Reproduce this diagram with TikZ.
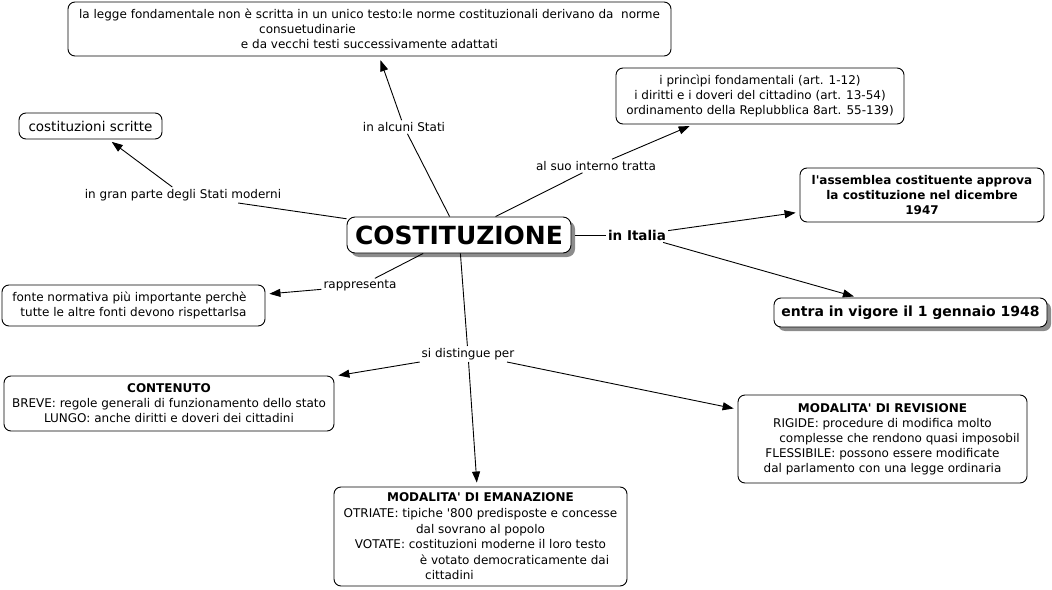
\documentclass[tikz,border=0pt]{standalone}
\usepackage{fontspec}
\setmainfont{DejaVu Sans}[Ligatures=TeXOff]
\usetikzlibrary{arrows.meta,shadows}
\begin{document}
\begin{tikzpicture}[x=1pt,y=-1pt,
  box/.style={draw=black,line width=0.9pt,rounded corners=7pt,fill=white,inner sep=0pt,align=center,font=\fontsize{12}{15}\selectfont},
  lab/.style={inner sep=2pt,font=\fontsize{12}{15}\selectfont},
  link/.style={draw=black,line width=0.9pt},
  arr/.style={link,-{Triangle[length=11pt,width=8pt]},shorten >=4pt},
  shad/.style={drop shadow={shadow xshift=4pt,shadow yshift=-4pt,fill=black!45,opacity=1}}
]
\useasboundingbox (0,0) rectangle (1052,589);

% concept boxes
\node[box,minimum width=603pt,minimum height=54pt] (top) at (369.5,29)
  {la legge fondamentale non è scritta in un unico testo:le norme costituzionali derivano da\ \ norme\\
   consuetudinarie\rule{124pt}{0pt}\\
   e da vecchi testi successivamente adattati};
\node[box,minimum width=288pt,minimum height=56pt] (tratta) at (760,96)
  {i princìpi fondamentali (art. 1-12)\\
   i diritti e i doveri del cittadino (art. 13-54)\\
   ordinamento della Replubblica 8art. 55-139)};
\node[box,minimum width=143pt,minimum height=26pt,font=\fontsize{13.5}{16}\selectfont] (scritte) at (90.5,126)
  {costituzioni scritte};
\node[box,shad,minimum width=224pt,minimum height=36pt,rounded corners=8pt,font=\fontsize{25}{29}\selectfont\bfseries] (cost) at (459,235)
  {COSTITUZIONE};
\node[box,minimum width=244pt,minimum height=54pt,font=\fontsize{12}{15}\selectfont\bfseries] (assemblea) at (922,195)
  {l'assemblea costituente approva\\ la costituzione nel dicembre\\ 1947};
\node[box,shad,minimum width=273pt,minimum height=29pt,font=\fontsize{14}{17}\selectfont\bfseries] (vigore) at (910.5,312.5)
  {entra in vigore il 1 gennaio 1948};
\node[box,minimum width=263pt,minimum height=41pt] (fonte) at (133.5,305.5)
  {fonte normativa più importante perchè\rule{8pt}{0pt}\\
   tutte le altre fonti devono rispettarlsa};
\node[box,minimum width=330pt,minimum height=55pt] (contenuto) at (169,403.5)
  {\textbf{CONTENUTO}\\
   BREVE: regole generali di funzionamento dello stato\\
   LUNGO: anche diritti e doveri dei cittadini};
\node[box,minimum width=289pt,minimum height=88pt] (revisione) at (882.5,439)
  {\textbf{MODALITA' DI REVISIONE}\\
   RIGIDE: procedure di modifica molto\\
   \rule{34pt}{0pt}complesse che rendono quasi imposobil\\
   FLESSIBILE: possono essere modificate\\
   dal parlamento con una legge ordinaria};
\node[box,minimum width=293pt,minimum height=99pt,font=\fontsize{12}{15.6}\selectfont] (emanazione) at (480.5,536.5)
  {\textbf{MODALITA' DI EMANAZIONE}\\
   OTRIATE: tipiche '800 predisposte e concesse\\
   dal sovrano al popolo\\
   VOTATE: costituzioni moderne il loro testo\\
   \rule{68pt}{0pt}è votato democraticamente dai\\
   cittadini\rule{62pt}{0pt}};

% linking phrases
\node[lab] (lgran) at (183,195) {in gran parte degli Stati moderni};
\node[lab] (lalcuni) at (404,127) {in alcuni Stati};
\node[lab] (ltratta) at (596,166) {al suo interno tratta};
\node[lab,font=\fontsize{13.5}{16}\selectfont\bfseries] (litalia) at (637,235) {in Italia};
\node[lab] (lrappr) at (360,286) {rappresenta};
\node[lab] (ldist) at (468,354) {si distingue per};

% connectors
\draw[link] (cost) -- (lgran);
\draw[arr] (lgran) -- (scritte);
\draw[link] (cost) -- (lalcuni);
\draw[arr] (lalcuni) -- (top);
\draw[link] (cost) -- (ltratta);
\draw[arr] (ltratta) -- (tratta);
\draw[link,shorten <=4pt] (cost) -- (litalia);
\draw[arr] (litalia) -- (assemblea);
\draw[arr] (litalia) -- (vigore);
\draw[link] (cost) -- (lrappr);
\draw[arr] (lrappr) -- (fonte);
\draw[link] (cost) -- (ldist);
\draw[arr] (ldist) -- (contenuto);
\draw[arr] (ldist) -- (emanazione);
\draw[arr] (ldist) -- (revisione);
\end{tikzpicture}
\end{document}
